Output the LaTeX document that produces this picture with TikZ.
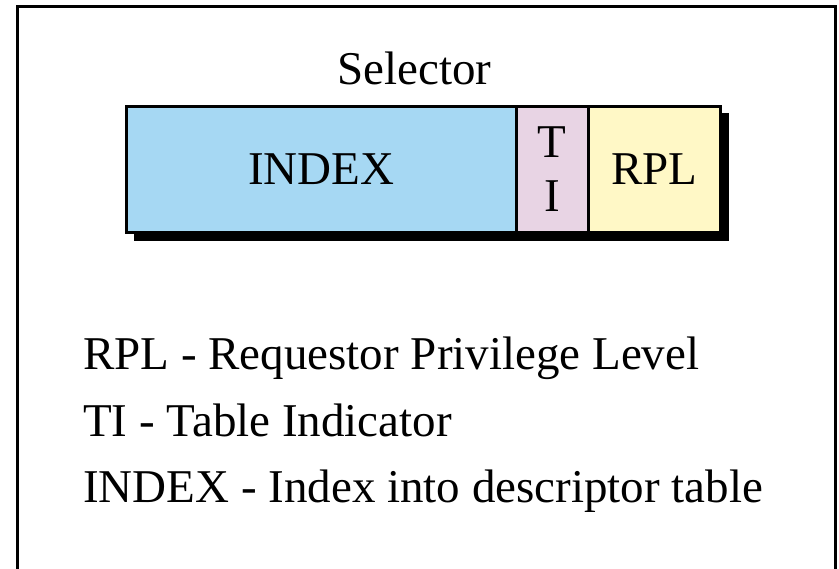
\documentclass[tikz,border=0pt]{standalone}
\usepackage{fontspec}
\setmainfont{Liberation Serif}
\definecolor{indexblue}{RGB}{166,216,243}
\definecolor{tipink}{RGB}{232,212,228}
\definecolor{rplyellow}{RGB}{255,248,198}
\begin{document}
\begin{tikzpicture}[
    x=1pt, y=-1pt,
    field/.style={draw, line width=3pt, minimum height=126pt, inner sep=0pt,
        font=\fontsize{47}{54}\selectfont},
    legend/.style={font=\fontsize{47}{54}\selectfont, inner sep=0pt, anchor=base west}
]
    \useasboundingbox (0,0) rectangle (839,569);
    % frame, open at the bottom
    \draw[line width=3pt] (17.5,569) -- (17.5,6.5) -- (835.5,6.5) -- (835.5,569);

    % selector fields with shadow
    \fill (133.5,113.5) rectangle (729,241);
    \node[field, fill=indexblue, minimum width=389.5pt] (index) at (321.25,169.5) {INDEX};
    \node[field, fill=tipink, minimum width=72.3pt, align=center] (ti) at (552.15,169.5) {T\\I};
    \node[field, fill=rplyellow, minimum width=132.2pt] (rpl) at (654.4,169.5) {RPL};
    \node[legend, anchor=base] (selector) at (414.5,85) {Selector};

    % legend
    \node[legend] (rpl-text) at (83,370) {RPL - Requestor Privilege Level};
    \node[legend] (ti-text) at (83,437) {TI - Table Indicator};
    \node[legend] (index-text) at (83,503) {INDEX - Index into descriptor table};
\end{tikzpicture}
\end{document}
